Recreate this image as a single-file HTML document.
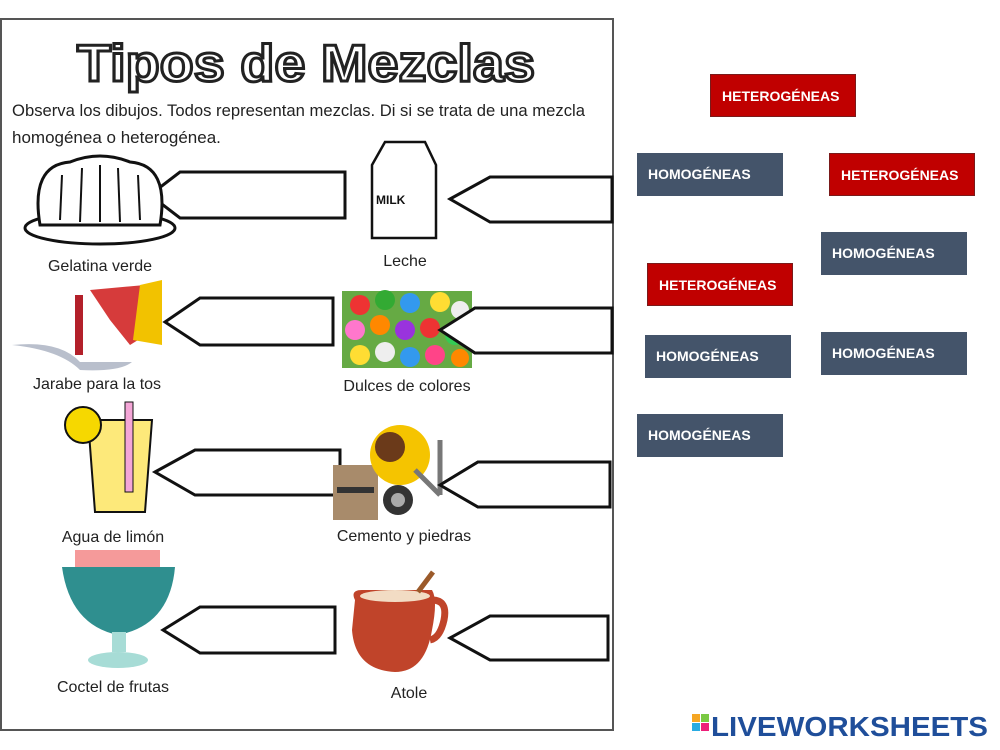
<!DOCTYPE html>
<html><head><meta charset="utf-8"><style>
body{margin:0;width:1000px;height:750px;background:#fff;overflow:hidden;font-family:"Liberation Sans",sans-serif}
.b{position:absolute;color:#fff;font-weight:bold;font-size:14px;line-height:43px;padding-left:11px;box-sizing:border-box;width:146px;height:43px}
.r{background:#c00000;border:1px solid #7a1a1a}
.h{background:#44546a}
</style></head><body>
<svg width="1000" height="750" style="position:absolute;left:0;top:0" font-family="Liberation Sans, sans-serif">
<rect x="1" y="19" width="612" height="711" fill="#fff" stroke="#555" stroke-width="2"/>
<text x="77" y="81" textLength="458" lengthAdjust="spacingAndGlyphs" font-size="52" font-weight="bold" fill="#fff" stroke="#222" stroke-width="3">Tipos de Mezclas</text>
<text x="12" y="116" font-size="17" fill="#222" textLength="573" lengthAdjust="spacingAndGlyphs">Observa los dibujos. Todos representan mezclas. Di si se trata de una mezcla</text>
<text x="12" y="143" font-size="17" fill="#222">homogénea o heterogénea.</text>
<g fill="#fff" stroke="#111" stroke-width="3">
<polygon points="150,195 180,172 345,172 345,218 180,218"/>
<polygon points="450,199 490,177 612,177 612,222 490,222"/>
<polygon points="165,322 200,298 333,298 333,345 200,345"/>
<polygon points="440,330 475,308 610,308 610,353 475,353"/>
<polygon points="155,472 195,450 340,450 340,495 195,495"/>
<polygon points="440,485 478,462 610,462 610,507 478,507"/>
<polygon points="163,630 200,607 335,607 335,653 200,653"/>
<polygon points="450,638 490,616 608,616 608,660 490,660"/>
</g>
<!-- gelatina -->
<g fill="#fff" stroke="#111" stroke-width="3"><ellipse cx="100" cy="228" rx="75" ry="16"/><path d="M40,225 Q30,165 70,162 Q100,150 130,162 Q170,165 160,225 Z"/></g>
<g stroke="#111" stroke-width="2" fill="none"><path d="M60,220 L62,175"/><path d="M80,222 L82,168"/><path d="M100,222 L100,165"/><path d="M120,222 L118,168"/><path d="M140,220 L138,175"/></g>
<!-- milk -->
<g fill="#fff" stroke="#111" stroke-width="2.5"><path d="M372,165 L385,142 L425,142 L436,165 L436,238 L372,238 Z"/><text x="376" y="204" font-size="12" font-weight="bold" fill="#111" stroke="none">MILK</text></g>
<text x="100" y="271" text-anchor="middle" font-size="16" fill="#222">Gelatina verde</text>
<text x="405" y="266" text-anchor="middle" font-size="16" fill="#222">Leche</text>
<!-- jarabe -->
<path d="M12,345 Q60,340 80,362 L132,362 Q120,372 80,370 Q60,350 12,345Z" fill="#b9bfcc"/>
<path d="M90,290 L145,285 L162,325 L130,345 L110,320 Z" fill="#d63b3b"/>
<path d="M140,285 L162,280 L162,345 L133,340 Z" fill="#f2c200"/>
<rect x="75" y="295" width="8" height="60" fill="#b3202a"/>
<text x="97" y="389" text-anchor="middle" font-size="16" fill="#222">Jarabe para la tos</text>
<!-- dulces -->
<rect x="342" y="291" width="130" height="77" fill="#6a4"/>
<g><circle cx="360" cy="305" r="10" fill="#e33"/><circle cx="385" cy="300" r="10" fill="#3a3"/><circle cx="410" cy="303" r="10" fill="#39e"/><circle cx="440" cy="302" r="10" fill="#fd3"/><circle cx="460" cy="310" r="9" fill="#eee"/><circle cx="355" cy="330" r="10" fill="#f7c"/><circle cx="380" cy="325" r="10" fill="#f80"/><circle cx="405" cy="330" r="10" fill="#93d"/><circle cx="430" cy="328" r="10" fill="#e33"/><circle cx="455" cy="335" r="10" fill="#3c5"/><circle cx="360" cy="355" r="10" fill="#fd3"/><circle cx="385" cy="352" r="10" fill="#eee"/><circle cx="410" cy="357" r="10" fill="#39e"/><circle cx="435" cy="355" r="10" fill="#f48"/><circle cx="460" cy="358" r="9" fill="#f80"/></g>
<polygon points="440,330 475,308 612,308 612,353 475,353" fill="#fff" stroke="#111" stroke-width="3"/>
<text x="407" y="391" text-anchor="middle" font-size="16" fill="#222">Dulces de colores</text>
<!-- limon -->
<path d="M88,420 L152,420 L145,512 L95,512 Z" fill="#fde97a" stroke="#111" stroke-width="2"/>
<rect x="125" y="402" width="8" height="90" fill="#f4a6d7" stroke="#111"/>
<circle cx="83" cy="425" r="18" fill="#f6d800" stroke="#111" stroke-width="2"/>
<text x="113" y="542" text-anchor="middle" font-size="16" fill="#222">Agua de limón</text>
<!-- cemento -->
<rect x="333" y="465" width="45" height="55" fill="#a88b6b"/>
<rect x="337" y="487" width="37" height="6" fill="#333"/>
<circle cx="400" cy="455" r="30" fill="#f5c400"/>
<circle cx="390" cy="447" r="15" fill="#6b3a1a"/>
<line x1="415" y1="470" x2="440" y2="495" stroke="#777" stroke-width="5"/>
<line x1="440" y1="440" x2="440" y2="495" stroke="#777" stroke-width="5"/>
<circle cx="398" cy="500" r="15" fill="#333"/><circle cx="398" cy="500" r="7" fill="#aaa"/>
<polygon points="440,485 478,462 610,462 610,507 478,507" fill="#fff" stroke="#111" stroke-width="3"/>
<text x="404" y="541" text-anchor="middle" font-size="16" fill="#222">Cemento y piedras</text>
<!-- coctel -->
<rect x="75" y="550" width="85" height="20" fill="#f59a9a"/>
<path d="M62,567 L175,567 Q170,625 118,635 Q70,625 62,567Z" fill="#2f8f8f"/>
<rect x="112" y="632" width="14" height="20" fill="#a7dcd6"/>
<ellipse cx="118" cy="660" rx="30" ry="8" fill="#a7dcd6"/>
<text x="113" y="692" text-anchor="middle" font-size="16" fill="#222">Coctel de frutas</text>
<!-- atole -->
<path d="M355,600 Q350,590 362,590 L432,590 Q438,600 432,630 Q425,672 395,672 Q355,670 352,630 Z" fill="#c0442a"/>
<path d="M432,600 Q448,600 444,620 Q440,638 430,640" fill="none" stroke="#c0442a" stroke-width="7"/>
<ellipse cx="395" cy="596" rx="35" ry="6" fill="#f2dcc4"/>
<line x1="418" y1="592" x2="433" y2="572" stroke="#9b5a2a" stroke-width="5"/>
<text x="409" y="698" text-anchor="middle" font-size="16" fill="#222">Atole</text>
<!-- logo -->
<rect x="692" y="714" width="8" height="8" fill="#f5a623"/><rect x="701" y="714" width="8" height="8" fill="#7ac943"/>
<rect x="692" y="723" width="8" height="8" fill="#29abe2"/><rect x="701" y="723" width="8" height="8" fill="#ed1e79"/>
<text x="711" y="736" font-size="28" font-weight="bold" fill="#1f4e9a" textLength="277" lengthAdjust="spacingAndGlyphs">LIVEWORKSHEETS</text>
</svg>
<div class="b r" style="left:710px;top:74px">HETEROGÉNEAS</div>
<div class="b h" style="left:637px;top:153px">HOMOGÉNEAS</div>
<div class="b r" style="left:829px;top:153px">HETEROGÉNEAS</div>
<div class="b h" style="left:821px;top:232px">HOMOGÉNEAS</div>
<div class="b r" style="left:647px;top:263px">HETEROGÉNEAS</div>
<div class="b h" style="left:645px;top:335px">HOMOGÉNEAS</div>
<div class="b h" style="left:821px;top:332px">HOMOGÉNEAS</div>
<div class="b h" style="left:637px;top:414px">HOMOGÉNEAS</div>
</body></html>
